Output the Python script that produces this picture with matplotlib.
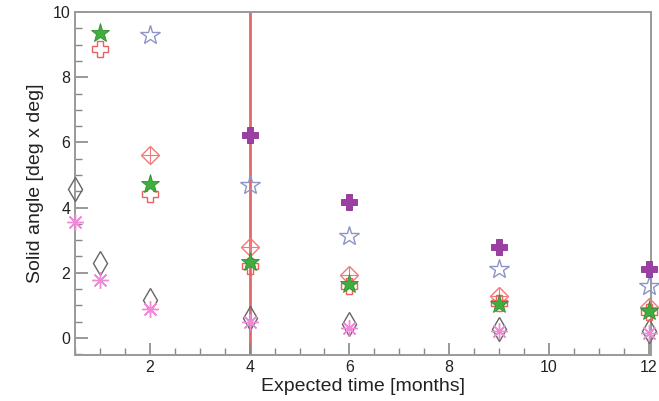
import matplotlib
matplotlib.use('Agg')
import matplotlib.pyplot as plt
from matplotlib.ticker import MultipleLocator

# expected time [months] and solid angle [deg x deg] per series
x_full = [0.5, 1, 2, 4, 6, 9, 12]
x_six = [1, 2, 4, 6, 9, 12]
x_five = [2, 4, 6, 9, 12]
x_four = [4, 6, 9, 12]

green_star = [9.36, 4.71, 2.34, 1.64, 1.05, 0.82]
red_cross = [8.88, 4.41, 2.22, 1.58, 1.08, 0.80]
blue_star = [9.29, 4.68, 3.12, 2.12, 1.60]
purple_cross = [6.24, 4.16, 2.80, 2.10]
red_diamond = [5.61, 2.80, 1.92, 1.30, 0.95]
gray_diamond = [4.56, 2.30, 1.16, 0.62, 0.42, 0.27, 0.22]
pink_aster = [3.55, 1.79, 0.88, 0.48, 0.29, 0.20, 0.15]

vline_x = 4

plt.rcParams['font.family'] = ['Liberation Sans', 'DejaVu Sans']

fig = plt.figure(figsize=(6.59, 4.01), dpi=100)
ax = fig.add_axes([0.114, 0.115, 0.874, 0.855])

ax.axvline(vline_x, color='#e06a6a', lw=2, zorder=1)

kw = dict(linestyle='none', clip_on=False, zorder=3)
ax.plot(x_full, gray_diamond, marker='d', ms=12, mfc='none', mec='#666666', mew=1.0, **kw)
ax.plot(x_full, pink_aster, marker=(8, 2, 0), ms=12, color='#f08ad8', mew=1.0, **kw)
ax.plot(x_five, red_diamond, marker='D', ms=9, mfc='none', mec='#f07878', mew=1.0, **kw)
ax.plot(x_five, red_diamond, marker='+', ms=12, color='#f07878', mew=0.8, **kw)
ax.plot(x_six, red_cross, marker='P', ms=12, mfc='none', mec='#ee6060', mew=1.0, **kw)
ax.plot(x_six, green_star, marker='*', ms=14, mfc='#3fae3f', mec='#2f8f2f', mew=0.6, **kw)
ax.plot(x_five, blue_star, marker='*', ms=15, mfc='none', mec='#8d95c4', mew=1.0, **kw)
ax.plot(x_four, purple_cross, marker='P', ms=12, mfc='#9b3fa3', mec='#8a3392', mew=0.6, **kw)

ax.set_xlim(0.5, 12.05)
ax.set_ylim(-0.52, 10)
ax.xaxis.set_major_locator(MultipleLocator(2))
ax.xaxis.set_minor_locator(MultipleLocator(0.5))
ax.yaxis.set_major_locator(MultipleLocator(2))
ax.yaxis.set_minor_locator(MultipleLocator(0.5))
ax.tick_params(which='both', direction='in', color='#888888', labelsize=11.5, labelcolor='#222222')
ax.tick_params(which='major', length=9, width=1.2)
ax.tick_params(which='minor', length=5, width=1.0)
for s in ax.spines.values():
    s.set_color('#999999')
    s.set_linewidth(1.4)

ax.set_xlabel('Expected time [months]', fontsize=14, color='#222222', labelpad=2)
ax.set_ylabel('Solid angle [deg x deg]', fontsize=14, color='#222222', labelpad=6)

fig.savefig('out.png', dpi=100)
